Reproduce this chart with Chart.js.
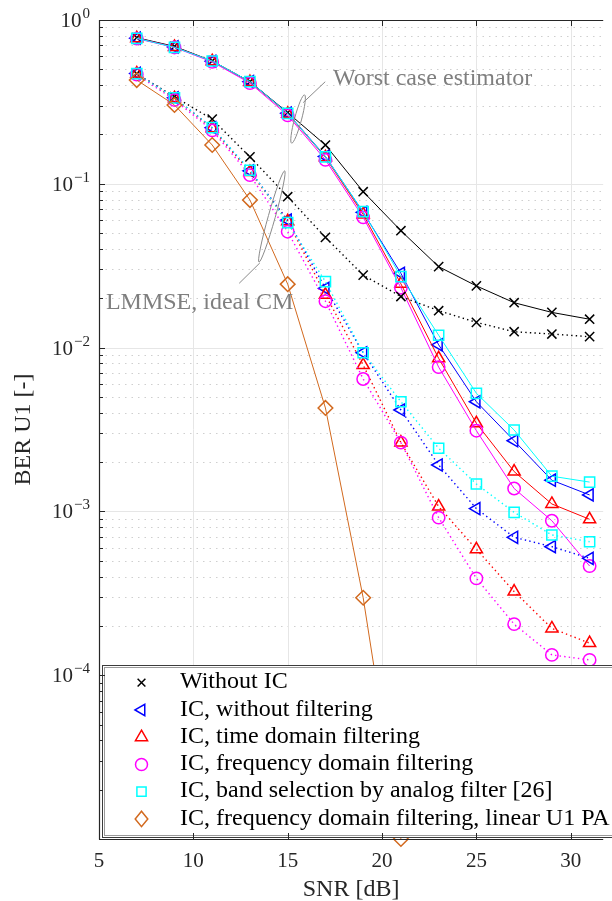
<!DOCTYPE html>
<html>
<head>
<meta charset="utf-8">
<script src="https://cdn.jsdelivr.net/npm/chart.js@4/dist/chart.umd.min.js"></script>
<style>
  html, body { margin: 0; padding: 0; background: #fff; }
  canvas { display: block; }
</style>
</head>
<body>
<canvas id="ber" width="612" height="901"></canvas>
<script>
// SNR grid [dB]
const snr = [7, 9, 11, 13, 15, 17, 19, 21, 23, 25, 27, 29, 31];
const snrLinearPA = [7, 9, 11, 13, 15, 17, 19, 21];

// Worst case estimator (solid curves)
const worstNoIC     = [0.78, 0.69, 0.562, 0.42, 0.272, 0.1725, 0.0895, 0.0517, 0.0312, 0.0238, 0.0188, 0.0164, 0.0149];
const worstIcNoFilt = [0.775, 0.685, 0.56, 0.42, 0.27, 0.147, 0.067, 0.0284, 0.0104, 0.00467, 0.0027, 0.00155, 0.00126];
const worstIcTime   = [0.775, 0.685, 0.56, 0.418, 0.268, 0.145, 0.065, 0.0245, 0.0086, 0.00345, 0.00175, 0.00111, 0.000895];
const worstIcFreq   = [0.77, 0.68, 0.555, 0.412, 0.262, 0.14, 0.0624, 0.0232, 0.0076, 0.00311, 0.00138, 0.000877, 0.000464];
const worstIcBand   = [0.773, 0.681, 0.562, 0.42, 0.269, 0.146, 0.0676, 0.0271, 0.0119, 0.00526, 0.00314, 0.00164, 0.00151];

// LMMSE estimator with ideal covariance matrix (dotted curves)
const lmmseNoIC     = [0.47, 0.34, 0.248, 0.146, 0.0834, 0.0471, 0.0277, 0.0205, 0.0168, 0.01426, 0.0125, 0.0121, 0.01166];
const lmmseIcNoFilt = [0.472, 0.335, 0.22, 0.12, 0.06, 0.023, 0.0093, 0.00416, 0.00192, 0.00104, 0.000695, 0.000609, 0.000517];
const lmmseIcTime   = [0.472, 0.333, 0.218, 0.118, 0.059, 0.021, 0.00783, 0.00263, 0.00107, 0.000587, 0.000324, 0.000193, 0.000157];
const lmmseIcFreq   = [0.465, 0.325, 0.212, 0.113, 0.051, 0.0192, 0.00643, 0.00263, 0.000916, 0.00039, 0.000205, 0.000133, 0.000124];
const lmmseIcBand   = [0.47, 0.335, 0.22, 0.121, 0.0579, 0.0253, 0.0093, 0.00467, 0.00243, 0.00147, 0.000987, 0.000718, 0.000653];

// Frequency domain filtering with a linear U1 PA
const linearPaIcFreq = [0.43, 0.303, 0.1725, 0.0796, 0.0244, 0.00428, 0.000297, 1.0e-5];

const legendLabels = [
  'Without IC',
  'IC, without filtering',
  'IC, time domain filtering',
  'IC, frequency domain filtering',
  'IC, band selection by analog filter [26]',
  'IC, frequency domain filtering, linear U1 PA'
];
const xTickValues = [5, 10, 15, 20, 25, 30];
const yTickExponents = [0, -1, -2, -3, -4];
const xTitle = 'SNR [dB]';
const yTitle = 'BER U1 [-]';

// Annotation anchors in data units (SNR, BER)
const worstNote = { text: 'Worst case estimator', at: [17.40, 0.401], from: [16.99, 0.42], to: [15.82, 0.313], ring: [15.55, 0.2486], ringLen: 25, ringRot: 105 };
const lmmseNote = { text: 'LMMSE, ideal CM', at: [5.365, 0.01714], from: [12.43, 0.02469], to: [13.52, 0.03284], ring: [14.16, 0.0632], ringLen: 47.4, ringRot: 105.7 };

const SERIF = '"Liberation Serif", "Times New Roman", serif';
const AXIS = '#262626';
const NOTE = '#7f7f7f';

const looks = {
  noIC:   { color: '#000000', marker: 'crossRot', radius: 6.5, rotation: 0,   legend: 'x' },
  noFilt: { color: '#0000ff', marker: 'triangle', radius: 7,   rotation: -90, legend: 'triL' },
  time:   { color: '#ff0000', marker: 'triangle', radius: 7,   rotation: 0,   legend: 'tri' },
  freq:   { color: '#ff00ff', marker: 'circle',   radius: 6.2, rotation: 0,   legend: 'circle' },
  band:   { color: '#00ffff', marker: 'rect',     radius: 7.2, rotation: 0,   legend: 'square' },
  linPA:  { color: '#d2691e', marker: 'rectRot',  radius: 7.3, rotation: 0,   legend: 'diamond' }
};

function series(label, xs, ys, look, dotted) {
  return {
    label,
    data: xs.map((x, i) => ({ x, y: ys[i] })),
    borderColor: look.color,
    backgroundColor: 'rgba(0,0,0,0)',
    borderWidth: dotted ? 1.4 : 1,
    borderDash: dotted ? [1.4, 3.2] : [],
    pointStyle: look.marker,
    pointRadius: look.radius,
    pointRotation: look.rotation,
    pointBorderColor: look.color,
    pointBackgroundColor: 'rgba(0,0,0,0)',
    pointBorderWidth: 1.5,
    tension: 0,
    clip: false
  };
}

const datasets = [
  series('Without IC (worst case)', snr, worstNoIC, looks.noIC, false),
  series('IC, without filtering (worst case)', snr, worstIcNoFilt, looks.noFilt, false),
  series('IC, time domain filtering (worst case)', snr, worstIcTime, looks.time, false),
  series('IC, frequency domain filtering (worst case)', snr, worstIcFreq, looks.freq, false),
  series('IC, band selection (worst case)', snr, worstIcBand, looks.band, false),
  series('Without IC (LMMSE)', snr, lmmseNoIC, looks.noIC, true),
  series('IC, without filtering (LMMSE)', snr, lmmseIcNoFilt, looks.noFilt, true),
  series('IC, time domain filtering (LMMSE)', snr, lmmseIcTime, looks.time, true),
  series('IC, frequency domain filtering (LMMSE)', snr, lmmseIcFreq, looks.freq, true),
  series('IC, band selection (LMMSE)', snr, lmmseIcBand, looks.band, true),
  series('IC, frequency domain filtering, linear U1 PA', snrLinearPA, linearPaIcFreq, looks.linPA, false)
];
// later series are painted on top
datasets.forEach((d, i) => { d.order = -i; });

function line(ctx, x1, y1, x2, y2) {
  ctx.beginPath(); ctx.moveTo(x1, y1); ctx.lineTo(x2, y2); ctx.stroke();
}

function marker(ctx, kind, x, y, r) {
  ctx.beginPath();
  if (kind === 'x') {
    const d = r * 0.707;
    ctx.moveTo(x - d, y - d); ctx.lineTo(x + d, y + d);
    ctx.moveTo(x + d, y - d); ctx.lineTo(x - d, y + d);
  } else if (kind === 'tri' || kind === 'triL') {
    let a = kind === 'tri' ? 0 : -Math.PI / 2;
    for (let k = 0; k < 3; k++) {
      const px = x + Math.sin(a) * r, py = y - Math.cos(a) * r;
      if (k === 0) ctx.moveTo(px, py); else ctx.lineTo(px, py);
      a += 2 * Math.PI / 3;
    }
    ctx.closePath();
  } else if (kind === 'circle') {
    ctx.arc(x, y, r, 0, Math.PI * 2);
  } else if (kind === 'square') {
    ctx.rect(x - r, y - r, 2 * r, 2 * r);
  } else if (kind === 'diamond') {
    ctx.moveTo(x, y - r * 1.1); ctx.lineTo(x + r * 0.9, y);
    ctx.lineTo(x, y + r * 1.1); ctx.lineTo(x - r * 0.9, y);
    ctx.closePath();
  }
  ctx.stroke();
}

const frame = {
  id: 'frame',
  beforeDatasetsDraw(chart) {
    const { ctx, chartArea: a, scales: { x, y } } = chart;
    ctx.save();
    ctx.lineWidth = 1;
    // minor decade grid (dotted)
    ctx.strokeStyle = '#cfcfcf';
    ctx.setLineDash([1.5, 5]);
    for (let e = -5; e < 0; e++) {
      for (let k = 2; k <= 9; k++) {
        const py = Math.round(y.getPixelForValue(k * Math.pow(10, e))) + 0.5;
        line(ctx, a.left, py, a.right, py);
      }
    }
    // major grid
    ctx.setLineDash([]);
    ctx.strokeStyle = '#e6e6e6';
    xTickValues.forEach(v => {
      const px = Math.round(x.getPixelForValue(v)) + 0.5;
      if (px > a.left + 1) line(ctx, px, a.top, px, a.bottom);
    });
    yTickExponents.forEach(e => {
      const py = Math.round(y.getPixelForValue(Math.pow(10, e))) + 0.5;
      if (py > a.top + 1) line(ctx, a.left, py, a.right, py);
    });
    ctx.restore();
  },
  afterDatasetsDraw(chart) {
    const { ctx, chartArea: a, scales: { x, y } } = chart;
    ctx.save();

    // annotations
    [worstNote, lmmseNote].forEach(n => {
      ctx.strokeStyle = '#8a8a8a';
      ctx.lineWidth = 1;
      line(ctx, x.getPixelForValue(n.from[0]), y.getPixelForValue(n.from[1]),
                x.getPixelForValue(n.to[0]), y.getPixelForValue(n.to[1]));
      ctx.beginPath();
      ctx.ellipse(x.getPixelForValue(n.ring[0]), y.getPixelForValue(n.ring[1]),
                  n.ringLen, 3.5, n.ringRot * Math.PI / 180, 0, Math.PI * 2);
      ctx.stroke();
      ctx.fillStyle = NOTE;
      ctx.font = '24px ' + SERIF;
      ctx.textAlign = 'left';
      ctx.textBaseline = 'alphabetic';
      ctx.fillText(n.text, x.getPixelForValue(n.at[0]), y.getPixelForValue(n.at[1]));
    });

    // legend box
    const lx = a.left + 3, ly = 665, lw = 612 - lx + 5, lh = 837 - ly;
    ctx.fillStyle = '#ffffff';
    ctx.fillRect(lx, ly, lw, lh);
    ctx.lineWidth = 1;
    ctx.strokeStyle = '#3c3c3c';
    ctx.strokeRect(lx + 0.5, ly + 0.5, lw, lh);
    ctx.strokeStyle = '#9a9a9a';
    ctx.strokeRect(lx + 2.5, ly + 2.5, lw, lh - 4);
    const legendLooks = [looks.noIC, looks.noFilt, looks.time, looks.freq, looks.band, looks.linPA];
    const legendSize = { x: 5.5, triL: 6.5, tri: 7, circle: 6, square: 4.6, diamond: 7 };
    ctx.font = '24px ' + SERIF;
    ctx.textAlign = 'left';
    ctx.textBaseline = 'alphabetic';
    legendLabels.forEach((t, i) => {
      const ry = 682.7 + i * 27.25;
      const lk = legendLooks[i];
      ctx.strokeStyle = lk.color;
      ctx.lineWidth = 1.5;
      marker(ctx, lk.legend, 141.5, ry, legendSize[lk.legend]);
      ctx.fillStyle = '#000000';
      ctx.fillText(t, 180, ry + 5.6);
    });

    // axes box
    ctx.strokeStyle = AXIS;
    ctx.lineWidth = 1.2;
    line(ctx, a.left + 0.5, a.top, a.left + 0.5, a.bottom + 0.5);
    line(ctx, a.left, a.top + 0.5, a.right, a.top + 0.5);
    line(ctx, a.left, a.bottom + 0.5, a.right, a.bottom + 0.5);
    ctx.lineWidth = 1;
    // y ticks (inward)
    for (let e = -5; e <= 0; e++) {
      const py0 = Math.round(y.getPixelForValue(Math.pow(10, e))) + 0.5;
      line(ctx, a.left, py0, a.left + 6, py0);
      if (e === 0) break;
      for (let k = 2; k <= 9; k++) {
        const py = Math.round(y.getPixelForValue(k * Math.pow(10, e))) + 0.5;
        line(ctx, a.left, py, a.left + 4, py);
      }
    }
    // x ticks (inward, bottom and top)
    xTickValues.forEach(v => {
      const px = Math.round(x.getPixelForValue(v)) + 0.5;
      line(ctx, px, a.bottom, px, a.bottom - 6);
      line(ctx, px, a.top, px, a.top + 6);
    });

    // tick labels
    ctx.fillStyle = AXIS;
    ctx.font = '21px ' + SERIF;
    ctx.textAlign = 'center';
    ctx.textBaseline = 'alphabetic';
    xTickValues.forEach(v => {
      ctx.fillText(String(v), x.getPixelForValue(v), a.bottom + 28);
    });
    yTickExponents.forEach(e => {
      const py = y.getPixelForValue(Math.pow(10, e));
      const sup = e < 0 ? '\u2212' + Math.abs(e) : String(e);
      ctx.font = '21px ' + SERIF;
      const wb = ctx.measureText('10').width;
      ctx.font = '15px ' + SERIF;
      const ws = ctx.measureText(sup).width;
      const right = a.left - 9;
      ctx.textAlign = 'left';
      ctx.font = '21px ' + SERIF;
      ctx.fillText('10', right - ws - wb - 1, py + 7);
      ctx.font = '15px ' + SERIF;
      ctx.fillText(sup, right - ws, py - 2);
    });

    // axis titles
    ctx.font = '24px ' + SERIF;
    ctx.textAlign = 'center';
    ctx.fillText(xTitle, (a.left + a.right) / 2, 896);
    ctx.save();
    ctx.translate(30, (a.top + a.bottom) / 2);
    ctx.rotate(-Math.PI / 2);
    ctx.fillText(yTitle, 0, 0);
    ctx.restore();

    ctx.restore();
  }
};

new Chart(document.getElementById('ber'), {
  type: 'line',
  data: { datasets },
  options: {
    responsive: false,
    animation: false,
    devicePixelRatio: 1,
    events: [],
    layout: { padding: { left: 99, right: 0, top: 20, bottom: 62 } },
    plugins: { legend: { display: false }, tooltip: { enabled: false } },
    scales: {
      x: { type: 'linear', min: 5, max: 31.72, display: false },
      y: { type: 'logarithmic', min: 1e-5, max: 1, display: false }
    }
  },
  plugins: [frame]
});
</script>
</body>
</html>
